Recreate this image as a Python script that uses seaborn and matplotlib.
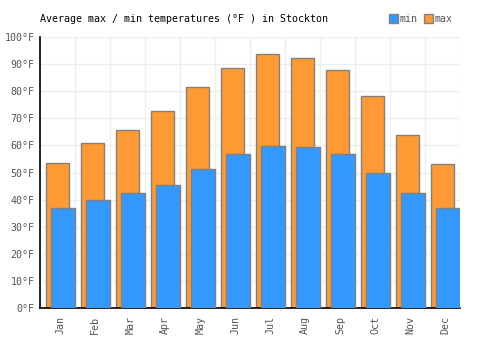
import numpy as np
import pandas as pd
import matplotlib
matplotlib.use("Agg")
import matplotlib.pyplot as plt
import matplotlib.patches as mpatches
import seaborn as sns

months = ["Jan", "Feb", "Mar", "Apr", "May", "Jun", "Jul", "Aug", "Sep", "Oct", "Nov", "Dec"]
max_temps = [53.5, 60.9, 65.7, 72.7, 81.5, 88.6, 93.6, 92.2, 87.7, 78.1, 63.7, 53.0]
min_temps = [36.8, 39.9, 42.4, 45.4, 51.3, 56.8, 59.7, 59.3, 56.7, 49.7, 42.3, 36.8]
y_ticks = list(range(0, 101, 10))
y_labels = [f"{v}°F" for v in y_ticks]

df = pd.DataFrame({"month": months, "max": max_temps, "min": min_temps})

sns.set_style("white")
plt.rcParams["font.family"] = ["DejaVu Sans Mono"]

ORANGE = "#FF9933"
BLUE = "#3399FF"
EDGE = "#808080"
TXT = "#555555"

fig = plt.figure(figsize=(5, 3.5), dpi=100)
ax = fig.add_axes([0.08, 0.12, 0.84, 0.774])

sns.barplot(data=df, x="month", y="max", color=ORANGE, width=0.65,
            edgecolor=EDGE, linewidth=1, saturation=1, ax=ax, zorder=2)
pos = np.arange(len(months))
ax.bar(pos + 0.16, df["min"], width=0.67, color=BLUE, edgecolor=EDGE,
       linewidth=1, zorder=3)

ax.set_xlim(-0.5, len(months) - 0.5)
ax.set_ylim(0, 100)
ax.set_yticks(y_ticks)
ax.set_yticklabels(y_labels)
ax.set_xticks(pos + 0.08)
ax.set_xticklabels(months, rotation=90)
ax.set_xticks(np.arange(len(months) + 1) - 0.5, minor=True)
ax.tick_params(axis="both", which="both", length=0, labelsize=7.2, colors=TXT)
ax.tick_params(axis="x", pad=6)
ax.tick_params(axis="y", pad=4)
ax.set_xlabel("")
ax.set_ylabel("")

ax.grid(False)
ax.yaxis.grid(True, color="#eeeeee", linewidth=1, zorder=0)
ax.xaxis.grid(True, which="minor", color="#eeeeee", linewidth=1, zorder=0)
ax.set_axisbelow(True)

for s in ["top", "right"]:
    ax.spines[s].set_visible(False)
for s in ["left", "bottom"]:
    ax.spines[s].set_color("black")
    ax.spines[s].set_linewidth(1.2)

fig.text(0.08, 1 - 19 / 350, "Average max / min temperatures (°F ) in Stockton",
         fontsize=7.2, color="black", va="center", ha="left")

handles = [mpatches.Patch(facecolor=BLUE, edgecolor=EDGE, label="min"),
           mpatches.Patch(facecolor=ORANGE, edgecolor=EDGE, label="max")]
leg = fig.legend(handles=handles, loc="center right", bbox_to_anchor=(0.915, 1 - 19 / 350),
                 ncol=2, frameon=False, fontsize=7.2, handlelength=0.9, handleheight=0.9,
                 handletextpad=0.2, columnspacing=0.6, borderpad=0)
for t in leg.get_texts():
    t.set_color(TXT)

fig.savefig("out.png", dpi=100)
